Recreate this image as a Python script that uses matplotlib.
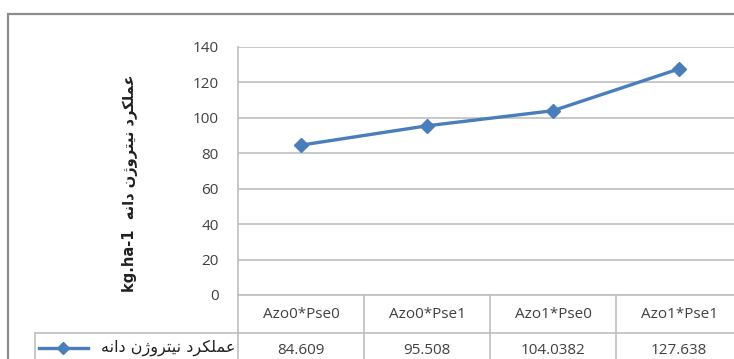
import matplotlib
matplotlib.use("Agg")
import matplotlib.pyplot as plt
import matplotlib.transforms as mtransforms
from matplotlib.patches import Rectangle

# data
categories = ["Azo0*Pse0", "Azo0*Pse1", "Azo1*Pse0", "Azo1*Pse1"]
values = [84.609, 95.508, 104.0382, 127.638]
value_labels = ["84.609", "95.508", "104.0382", "127.638"]
y_ticks = [0, 20, 40, 60, 80, 100, 120, 140]

# Persian series name, written in shaped presentation forms, visual (left-to-right) order
# logical: عملکرد نیتروژن دانه
series_name = ("\uFEEA\uFEE7\uFE8D\uFEA9 "
               "\uFEE5\uFB8A\uFEED\uFEAE\uFE98\uFBFF\uFEE7 "
               "\uFEA9\uFEAE\uFB91\uFEE0\uFEE4\uFECB")
unit = "kg.ha-1"

blue = "#4A7EBB"
grid_gray = "#BFBFBF"
txt = "#404040"

W, H = 734, 359
fig = plt.figure(figsize=(W / 100, H / 100), dpi=100)

# outer chart border (cropped on the right/bottom)
fig.patches.append(Rectangle((8 / W, -0.1), 1.2, 1 - 14 / H + 0.1, transform=fig.transFigure,
                             fill=False, edgecolor="#8C8C8C", linewidth=1.6))

x0, x1 = 238, 742
y_top, y_zero = 47, 295
ax = fig.add_axes([x0 / W, 1 - y_zero / H, (x1 - x0) / W, (y_zero - y_top) / H])

xs = list(range(len(values)))
ax.plot(xs, values, color=blue, linewidth=2.4, marker="D", markersize=7,
        markerfacecolor=blue, markeredgecolor=blue, zorder=3)

ax.set_xlim(-0.5, len(values) - 0.5)
ax.set_ylim(0, 140)
ax.set_yticks(y_ticks)
ax.set_yticklabels([str(t) for t in y_ticks], fontsize=11, color=txt, family="Open Sans")
ax.tick_params(axis="y", length=0, pad=14)
ax.set_xticks([])
ax.yaxis.grid(True, color=grid_gray, linewidth=1.2)
ax.set_axisbelow(True)
for s in ["top", "right"]:
    ax.spines[s].set_visible(False)
ax.spines["left"].set_color(grid_gray)
ax.spines["bottom"].set_color(grid_gray)
ax.spines["left"].set_linewidth(1.2)
ax.spines["bottom"].set_linewidth(1.2)

# data table under the axis (x in data units, y in axes fraction)
tr = mtransforms.blended_transform_factory(ax.transData, ax.transAxes)
row_h = 38 / (y_zero - y_top)
leg_left = -0.5 - (x0 - 35) / 126
line_kw = dict(color=grid_gray, linewidth=1.2, transform=tr, clip_on=False)

ax.plot([leg_left, len(values) - 0.5], [-row_h, -row_h], **line_kw)
ax.plot([leg_left, leg_left], [-row_h, -3 * row_h], **line_kw)
for b in range(len(values) + 1):
    ax.plot([b - 0.5, b - 0.5], [0, -3 * row_h], **line_kw)

for i, c in enumerate(categories):
    ax.text(i, -row_h / 2, c, transform=tr, ha="center", va="center",
            fontsize=11, color=txt, family="Open Sans")
    ax.text(i, -row_h * 1.45, value_labels[i], transform=tr, ha="center", va="center",
            fontsize=11, color=txt, family="Open Sans")

# legend key inside the table
ky = -row_h * 1.4
ax.plot([leg_left + 0.03, leg_left + 0.42], [ky, ky], color=blue, linewidth=2.4,
        transform=tr, clip_on=False)
ax.plot([leg_left + 0.225], [ky], color=blue, marker="D", markersize=6,
        transform=tr, clip_on=False, linestyle="none")
ax.text(-0.52, ky, series_name, transform=tr, ha="right", va="center",
        fontsize=11.5, color="#202020", family="DejaVu Sans")

# y-axis title
fig.text(130 / W, 1 - 183 / H, unit + "  " + series_name, rotation=90,
         ha="center", va="center", fontsize=10.5, fontweight="bold", color="#202020",
         family="DejaVu Sans")

fig.savefig("out.png", dpi=100)
